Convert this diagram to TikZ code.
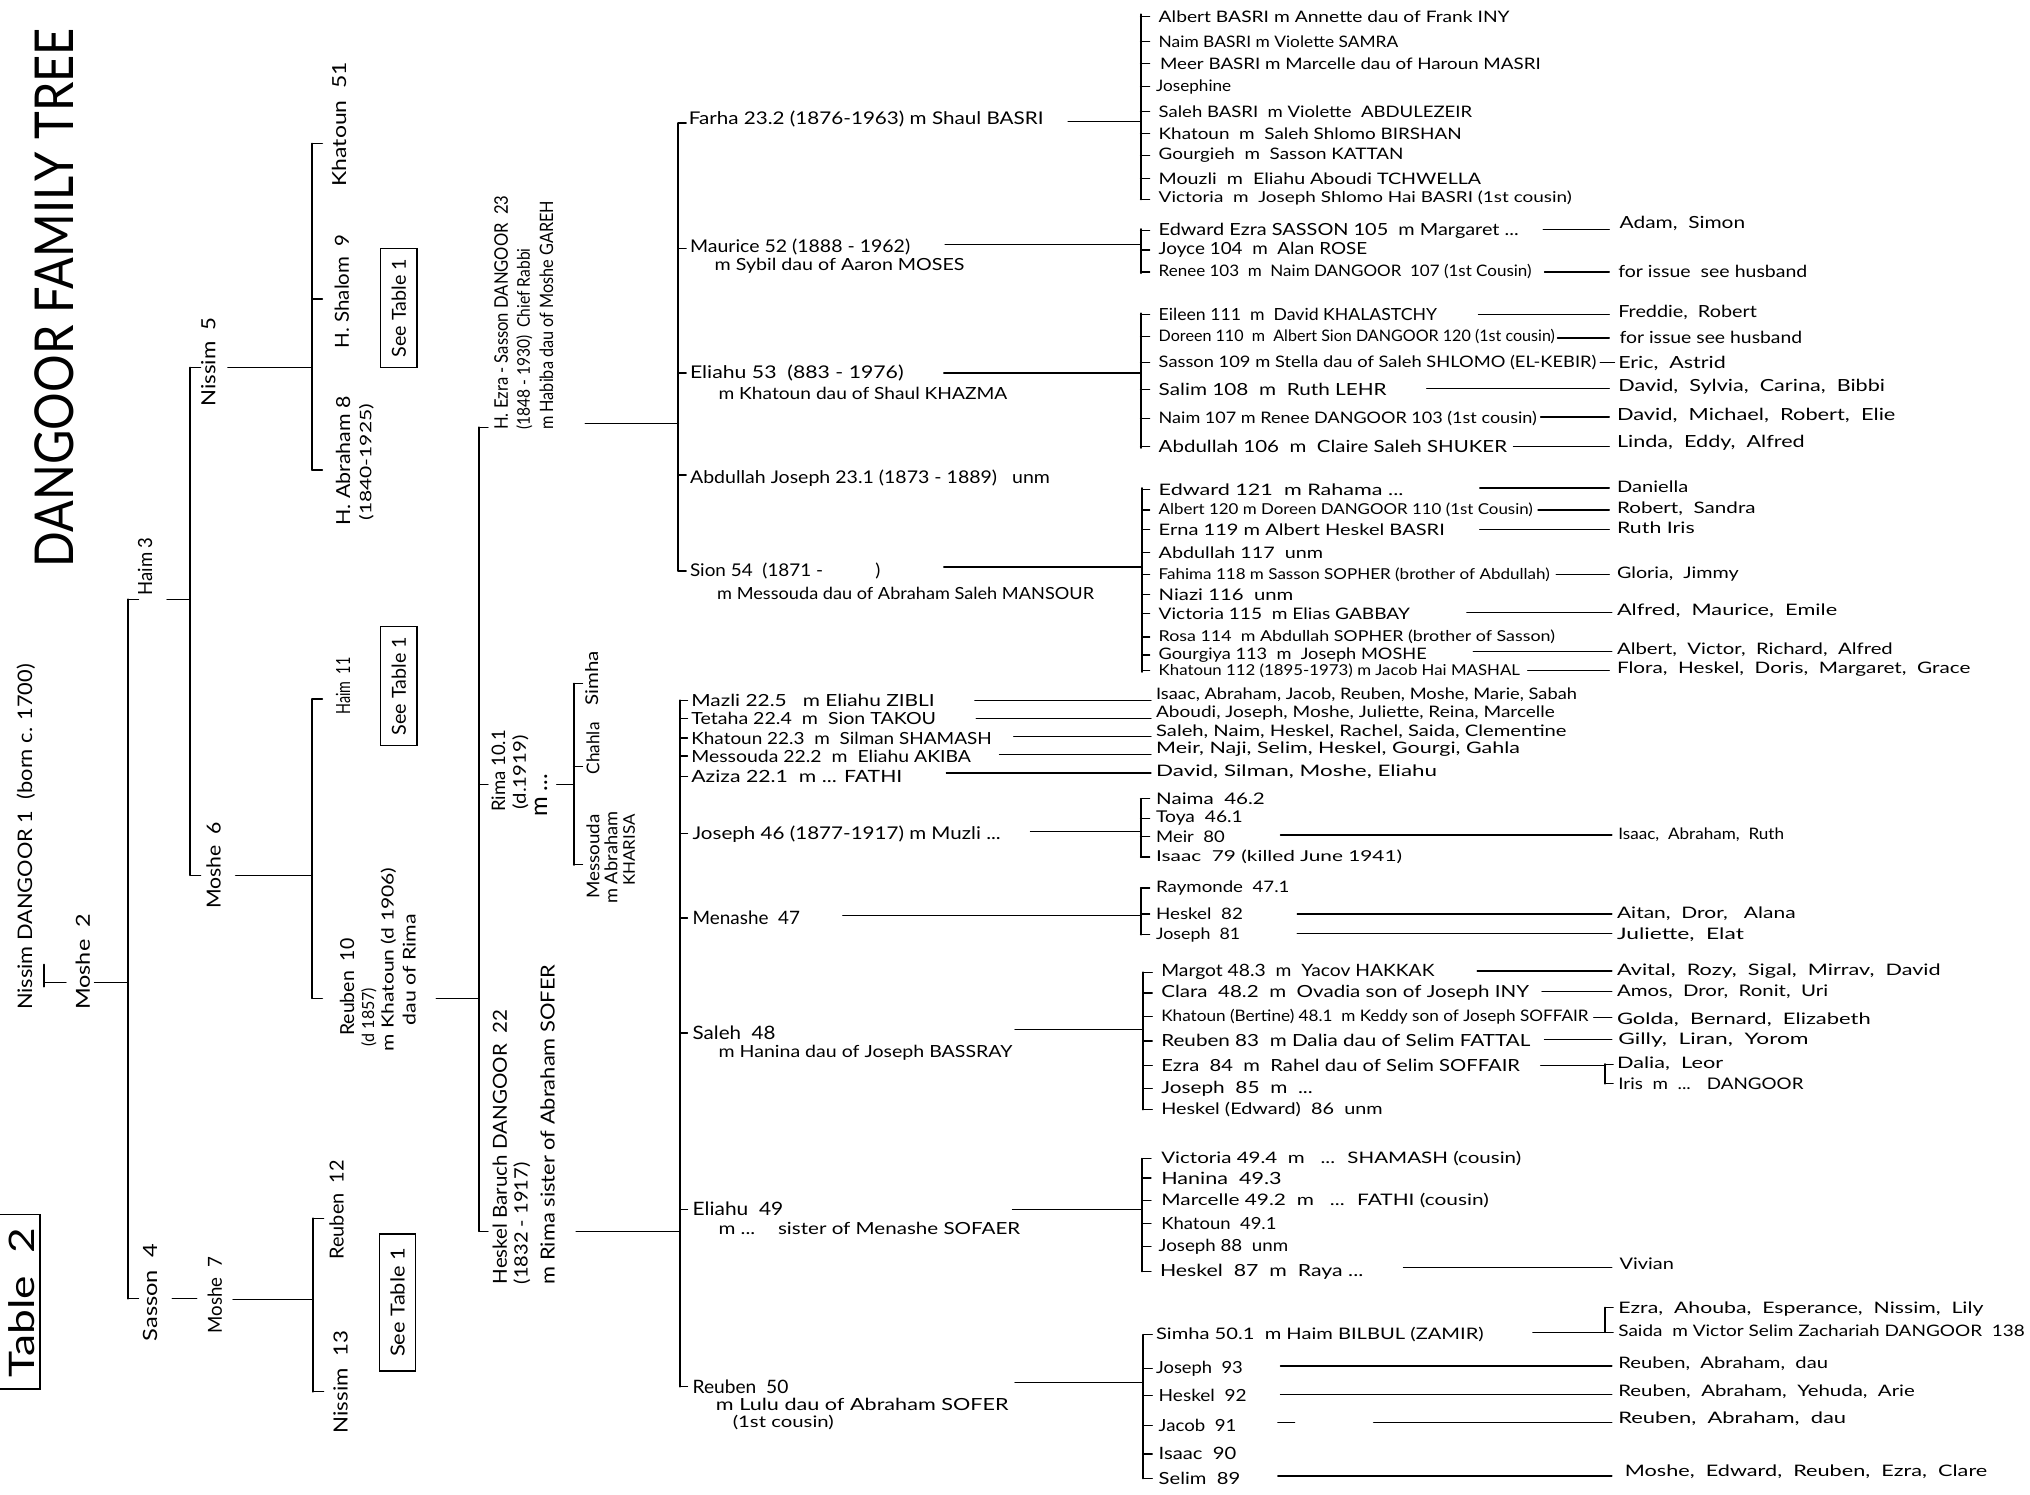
\documentclass[tikz,border=0pt]{standalone}
\usepackage{fontspec}
\setmainfont{Lato}
\usepackage{graphicx}
\newcounter{nd}
\def\curh{9.5}
\newcommand{\T}[4]{\stepcounter{nd}\node[txt,anchor=west] (n\arabic{nd}) at (#1,#2) {\resizebox{#3pt}{\curh pt}{#4}};}
\newcommand{\R}[4]{\stepcounter{nd}\node[txt,anchor=west,rotate=90] (n\arabic{nd}) at (#1,#2) {\resizebox{#3pt}{\curh pt}{#4}};}
\newcommand{\hln}[3]{\draw[ln] (#1,#3) -- (#2,#3);}
\newcommand{\vln}[3]{\draw[vl] (#1,#2) -- (#1,#3);}
\newcommand{\tk}[3]{\foreach \yy in {#3}{\draw[ln] (#1,\yy) -- (#2,\yy);}}
\tikzset{
  ln/.style={line width=1pt, line cap=round},
  vl/.style={line width=1.5pt, line cap=round},
  txt/.style={inner sep=0pt, outer sep=0pt},
  seebox/.style={draw, line width=1.1pt, rotate=90, inner sep=0pt, minimum height=28pt},
}
\begin{document}
\begin{tikzpicture}[x=1pt,y=-1pt]
\fill[white] (0,0) rectangle (1568,1154);
\useasboundingbox (0,0) rectangle (1568,1154);

% ---------------- left part (rotated) ----------------
\node[txt,rotate=90,anchor=west] (title) at (42,438) {\resizebox{416pt}{30pt}{DANGOOR FAMILY TREE}};
\draw[ln, line width=1.3pt] (-5,938) rectangle (31,1073);
\node[txt,rotate=90] (tab2) at (17,1006) {\resizebox{116pt}{20pt}{Table~ 2}};

\def\curh{12}
\R{20}{780}{267}{Nissim DANGOOR 1~ (born c. 1700)}
\def\curh{11}
\R{64}{780}{74}{Moshe~~2}
\R{112}{460}{45}{Haim~3}
\R{161}{314}{69}{Nissim~~5}
\R{165}{702}{67}{Moshe~~6}
\R{116}{1036}{75}{Sasson~~4}
\R{166}{1030}{59}{Moshe~~7}
\R{262}{144}{96}{Khatoun~~51}
\R{264}{269}{88}{H. Shalom~~9}
\R{265}{406}{100}{H. Abraham~8}
\def\curh{9.5}
\R{283}{402}{90}{(1840-1925)}
\def\curh{11}
\R{265}{552}{44}{Haim~~11}
\R{268}{800}{75}{Reuben~~10}
\def\curh{10}
\R{285}{808}{45}{(d 1857)}
\R{300}{812}{142}{m Khatoun (d 1906)}
\R{316}{792}{86}{dau of Rima}
\def\curh{11}
\R{260}{973}{77}{Reuben~~12}
\R{263}{1107}{79}{Nissim~~13}
\node[seebox, minimum width=92pt] (b1) at (308,238) {\resizebox{76pt}{11pt}{See Table 1}};
\node[seebox, minimum width=92pt] (b2) at (308,530) {\resizebox{76pt}{11pt}{See Table 1}};
\node[seebox, minimum width=106pt] (b3) at (307,1006) {\resizebox{84pt}{11pt}{See Table 1}};

\def\curh{10.5}
\R{387}{332}{181}{H. Ezra - Sasson DANGOOR~ 23}
\R{405}{332}{140}{(1848 - 1930)~ Chief Rabbi}
\R{422}{332}{177}{m Habiba dau of Moshe GAREH}
\R{385}{627}{63}{Rima~10.1}
\R{402}{625}{57}{(d.1919)}
\node[txt,rotate=90,anchor=west] (rm) at (418,631) {\resizebox{33pt}{!}{m ...}};
\def\curh{11}
\R{386}{992}{212}{Heskel Baruch DANGOOR~ 22}
\R{403}{992}{94}{(1832 - 1917)}
\R{423}{992}{247}{m Rima sister of Abraham SOFER}
\def\curh{10}
\R{457}{545}{42}{Simha}
\R{458}{598}{40}{Chahla}
\R{458}{694}{65}{Messouda}
\R{472}{698}{71}{m Abraham}
\def\curh{9}
\R{486}{684}{55}{KHARISA}

% left connectors
\vln{34}{745}{762}
\hln{34}{51}{759}
\hln{73}{99}{759}
\vln{99}{463}{1003}
\tk{99}{107}{463,1003}
\hln{129}{147}{463}
\vln{147}{284}{676}
\tk{147}{155}{284,676}
\hln{176}{241}{284}
\vln{241}{111}{363}
\tk{241}{249}{111,231,363}
\hln{182}{241}{676}
\vln{241}{540}{771}
\tk{241}{249}{540,771}
\hln{133}{152}{1003}
\hln{180}{242}{1004}
\vln{242}{941}{1075}
\tk{242}{250}{941,1075}
\hln{337}{370}{771}
\vln{370}{330}{951}
\tk{370}{377}{330,606,951}
\hln{452}{524}{327}
\vln{524}{95}{441}
\tk{524}{530}{95,192,288,367,441}
\hln{430}{443}{606}
\vln{443}{528}{668}
\tk{443}{450}{528,592,668}
\hln{445}{525}{951}
\vln{525}{541}{1071}
\tk{525}{531}{541,555,570,584,600,644,709,798,934,1071}

% ---------------- middle column ----------------
\def\curh{10.5}
\T{532}{92}{274}{Farha 23.2 (1876-1963) m Shaul BASRI}
\T{533}{191}{170}{Maurice 52 (1888 - 1962)}
\T{533}{288}{165}{Eliahu 53~ (883 - 1976)}
\T{533}{369}{278}{Abdullah Joseph 23.1 (1873 - 1889)~~ unm}
\T{533}{441}{147}{Sion 54~ (1871 - \hspace{2.5em})}
\T{535}{644}{238}{Joseph 46 (1877-1917) m Muzli ...}
\T{535}{709}{83}{Menashe~ 47}
\T{535}{798}{64}{Saleh~ 48}
\T{535}{934}{70}{Eliahu~ 49}
\T{535}{1071}{74}{Reuben~ 50}
\def\curh{9.5}
\T{552}{205}{193}{m Sybil dau of Aaron MOSES}
\T{555}{304}{223}{m Khatoun dau of Shaul KHAZMA}
\T{554}{458}{291}{m Messouda dau of Abraham Saleh MANSOUR}
\T{555}{813}{227}{m Hanina dau of Joseph BASSRAY}
\T{555}{949}{233}{m ...~~~ sister of Menashe SOFAER}
\T{553}{1085}{226}{m Lulu dau of Abraham SOFER}
\T{566}{1099}{78}{(1st cousin)}
\def\curh{9.5}
\T{534}{541}{188}{Mazli 22.5~~ m Eliahu ZIBLI}
\T{534}{555}{189}{Tetaha 22.4~ m~ Sion TAKOU}
\T{534}{570}{232}{Khatoun 22.3~ m~ Silman SHAMASH}
\T{534}{584}{216}{Messouda 22.2~ m~ Eliahu AKIBA}
\T{534}{600}{163}{Aziza 22.1~ m ... FATHI}

% middle connectors and brackets
\hln{825}{881}{94}
\vln{881}{11}{154}
\tk{881}{888}{13,32,49,67,86,103,120,138,154}
\hln{730}{881}{189}
\vln{881}{177}{211}
\tk{881}{888}{178,193,210}
\hln{729}{881}{288}
\vln{881}{242}{346}
\tk{881}{888}{243,260,280,301,323,345}
\hln{729}{882}{438}
\vln{882}{377}{519}
\tk{882}{888}{378,394,409,427,444,459,474,492,506,518}
\hln{753}{889}{541}
\hln{754}{889}{555}
\hln{783}{889}{569}
\hln{772}{889}{583}
\hln{731}{889}{597}
\hln{796}{881}{642}
\vln{881}{617}{662}
\tk{881}{888}{617,632,646,662}
\hln{651}{881}{707}
\vln{881}{686}{722}
\tk{881}{888}{686,706,722}
\hln{784}{883}{795}
\vln{883}{751}{857}
\tk{883}{890}{751,767,785,804,823,841,857}
\hln{782}{882}{934}
\vln{882}{895}{982}
\tk{882}{889}{895,910,927,945,963,982}
\hln{784}{883}{1068}
\vln{883}{1031}{1142}
\tk{883}{890}{1031,1057,1078,1101,1123,1142}

% ---------------- right column (children) ----------------
\def\curh{9}
\T{895}{13}{271}{Albert BASRI m Annette dau of Frank INY}
\T{895}{32}{185}{Naim BASRI m Violette SAMRA}
\T{896}{49}{294}{Meer BASRI m Marcelle dau of Haroun MASRI}
\T{893}{67}{58}{Josephine}
\T{895}{86}{242}{Saleh BASRI~ m Violette~ ABDULEZEIR}
\T{895}{103}{234}{Khatoun~ m~ Saleh Shlomo BIRSHAN}
\T{895}{120}{189}{Gourgieh~ m~ Sasson KATTAN}
\T{895}{138}{249}{Mouzli~ m~ Eliahu Aboudi TCHWELLA}
\T{895}{153}{319}{Victoria~ m~ Joseph Shlomo Hai BASRI (1st cousin)}
\def\curh{9.5}
\T{895}{178}{278}{Edward Ezra SASSON 105~ m Margaret ...}
\T{895}{193}{161}{Joyce 104~ m~ Alan ROSE}
\T{895}{210}{288}{Renee 103~ m~ Naim DANGOOR~ 107 (1st Cousin)}
\T{895}{243}{215}{Eileen 111~ m~ David KHALASTCHY}
\T{895}{260}{306}{Doreen 110~ m~ Albert Sion DANGOOR 120 (1st cousin)}
\T{895}{280}{338}{Sasson 109 m Stella dau of Saleh SHLOMO (EL-KEBIR)}
\T{895}{301}{176}{Salim 108~ m~ Ruth LEHR}
\T{895}{323}{292}{Naim 107 m Renee DANGOOR 103 (1st cousin)}
\T{895}{345}{269}{Abdullah 106~ m~ Claire Saleh SHUKER}
\def\curh{9}
\T{895}{378}{189}{Edward 121~ m Rahama ...}
\T{895}{394}{289}{Albert 120 m Doreen DANGOOR 110 (1st Cousin)}
\T{895}{409}{221}{Erna 119 m Albert Heskel BASRI}
\T{895}{427}{127}{Abdullah 117~ unm}
\T{895}{444}{302}{Fahima 118 m Sasson SOPHER (brother of Abdullah)}
\T{895}{459}{104}{Niazi 116~ unm}
\T{895}{474}{194}{Victoria 115~ m Elias GABBAY}
\T{895}{492}{306}{Rosa 114~ m Abdullah SOPHER (brother of Sasson)}
\T{895}{506}{207}{Gourgiya 113~ m~ Joseph MOSHE}
\T{895}{518}{279}{Khatoun 112 (1895-1973) m Jacob Hai MASHAL}
\T{893}{537}{325}{Isaac, Abraham, Jacob, Reuben, Moshe, Marie, Sabah}
\T{893}{551}{308}{Aboudi, Joseph, Moshe, Juliette, Reina, Marcelle}
\T{893}{565}{317}{Saleh, Naim, Heskel, Rachel, Saida, Clementine}
\T{893}{579}{281}{Meir, Naji, Selim, Heskel, Gourgi, Gahla}
\T{893}{596}{217}{David, Silman, Moshe, Eliahu}
\T{893}{617}{84}{Naima~ 46.2}
\T{893}{632}{67}{Toya~ 46.1}
\T{893}{646}{53}{Meir~ 80}
\T{893}{662}{190}{Isaac~ 79 (killed June 1941)}
\T{893}{686}{103}{Raymonde~ 47.1}
\T{893}{706}{67}{Heskel~ 82}
\T{893}{722}{65}{Joseph~ 81}
\def\curh{9.5}
\T{897}{751}{211}{Margot 48.3~ m~ Yacov HAKKAK}
\T{897}{767}{284}{Clara~ 48.2~ m~ Ovadia son of Joseph INY}
\T{897}{785}{330}{Khatoun (Bertine) 48.1~ m Keddy son of Joseph SOFFAIR}
\T{897}{804}{285}{Reuben 83~ m Dalia dau of Selim FATTAL}
\T{897}{823}{277}{Ezra~ 84~ m~ Rahel dau of Selim SOFFAIR}
\T{897}{841}{117}{Joseph~ 85~ m~ ...}
\T{897}{857}{171}{Heskel (Edward)~ 86~ unm}
\T{897}{895}{278}{Victoria 49.4~ m~~ ...~ SHAMASH (cousin)}
\T{897}{910}{93}{Hanina~ 49.3}
\T{897}{927}{253}{Marcelle 49.2~ m~~ ...~ FATHI (cousin)}
\T{897}{945}{89}{Khatoun~ 49.1}
\T{895}{963}{100}{Joseph 88~ unm}
\T{896}{982}{157}{Heskel~ 87 ~m~ Raya ...}
\T{893}{1031}{253}{Simha 50.1~ m Haim BILBUL (ZAMIR)}
\T{893}{1057}{67}{Joseph~ 93}
\T{895}{1078}{68}{Heskel~ 92}
\T{895}{1101}{60}{Jacob~ 91}
\T{895}{1123}{60}{Isaac~ 90}
\T{895}{1142}{63}{Selim~ 89}

% right connectors
\hln{1192}{1243}{177}
\hln{1193}{1243}{210}
\hln{1142}{1243}{243}
\hln{1203}{1243}{261}
\hln{1236}{1247}{280}
\hln{1102}{1243}{300}
\hln{1190}{1243}{322}
\hln{1169}{1243}{345}
\hln{1143}{1243}{377}
\hln{1188}{1243}{394}
\hln{1143}{1243}{409}
\hln{1202}{1243}{444}
\hln{1133}{1245}{473}
\hln{1138}{1245}{503}
\hln{1180}{1243}{518}
\hln{989}{1245}{645}
\hln{1002}{1245}{706}
\hln{1002}{1245}{721}
\hln{1141}{1245}{750}
\hln{1191}{1245}{766}
\hln{1231}{1245}{786}
\hln{1193}{1245}{803}
\hln{1190}{1240}{823}
\vln{1240}{822}{837}
\tk{1240}{1246}{822,837}
\hln{1084}{1245}{979}
\hln{1184}{1240}{1029}
\vln{1240}{1010}{1029}
\tk{1240}{1246}{1010,1029}
\hln{989}{1245}{1055}
\hln{989}{1245}{1077}
\hln{987}{1000}{1099}
\hln{1061}{1245}{1099}
\hln{987}{1245}{1140}

% ---------------- rightmost column (issue) ----------------
\def\curh{9.5}
\T{1251}{173}{97}{Adam,~ Simon}
\T{1250}{210}{146}{for issue~ see husband}
\T{1250}{241}{107}{Freddie,~ Robert}
\T{1251}{261}{141}{for issue see husband}
\T{1250}{281}{83}{Eric,~ Astrid}
\T{1250}{299}{206}{David,~ Sylvia,~ Carina,~ Bibbi}
\T{1249}{321}{215}{David,~ Michael,~ Robert,~ Elie}
\T{1249}{342}{145}{Linda,~ Eddy,~ Alfred}
\def\curh{9}
\T{1249}{376}{55}{Daniella}
\T{1249}{393}{107}{Robert,~ Sandra}
\T{1249}{408}{60}{Ruth Iris}
\T{1249}{443}{94}{Gloria,~ Jimmy}
\T{1249}{472}{170}{Alfred,~ Maurice,~ Emile}
\T{1249}{502}{213}{Albert,~ Victor,~ Richard,~ Alfred}
\T{1249}{517}{273}{Flora,~ Heskel,~ Doris,~ Margaret,~ Grace}
\T{1250}{645}{128}{Isaac,~ Abraham,~ Ruth}
\T{1249}{706}{138}{Aitan,~ Dror,~~ Alana}
\T{1249}{722}{98}{Juliette,~ Elat}
\T{1249}{750}{250}{Avital,~ Rozy,~ Sigal,~ Mirrav,~ David}
\T{1249}{766}{163}{Amos,~ Dror,~ Ronit,~ Uri}
\T{1249}{788}{196}{Golda,~ Bernard,~ Elizabeth}
\T{1250}{803}{147}{Gilly,~ Liran,~ Yorom}
\T{1249}{822}{82}{Dalia,~ Leor}
\T{1250}{837}{143}{Iris~ m~ ...~~ DANGOOR}
\T{1251}{976}{42}{Vivian}
\T{1250}{1011}{282}{Ezra,~ Ahouba,~ Esperance,~ Nissim,~ Lily}
\T{1250}{1028}{314}{Saida~ m Victor Selim Zachariah DANGOOR~ 138}
\T{1250}{1053}{162}{Reuben,~ Abraham,~ dau}
\T{1250}{1075}{229}{Reuben,~ Abraham,~ Yehuda,~ Arie}
\T{1250}{1096}{176}{Reuben,~ Abraham,~ dau}
\T{1255}{1137}{280}{Moshe,~ Edward,~ Reuben,~ Ezra,~ Clare}
\end{tikzpicture}
\end{document}
